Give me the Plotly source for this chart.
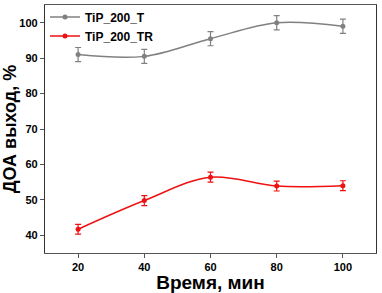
import plotly.graph_objects as go

time_min = [20, 40, 60, 80, 100]
tip_t = [91.0, 90.5, 95.5, 100.0, 99.0]
tip_t_err = [2.0, 2.0, 2.0, 2.0, 2.0]
tip_tr = [41.7, 49.8, 56.4, 53.9, 54.0]
tip_tr_err = [1.4, 1.4, 1.4, 1.4, 1.4]
x_ticks = [20, 40, 60, 80, 100]
y_ticks = [40, 50, 60, 70, 80, 90, 100]

fig = go.Figure()
fig.add_trace(go.Scatter(
    x=time_min, y=tip_t, name="<b>TiP_200_T</b>", mode="lines+markers",
    line=dict(color="#808080", width=1.5, shape="spline", smoothing=1.0),
    marker=dict(color="#808080", size=5, symbol="circle"),
    error_y=dict(type="data", array=tip_t_err, color="#808080", thickness=1.2, width=3),
))
fig.add_trace(go.Scatter(
    x=time_min, y=tip_tr, name="<b>TiP_200_TR</b>", mode="lines+markers",
    line=dict(color="#ee1111", width=1.5, shape="spline", smoothing=1.0),
    marker=dict(color="#ee1111", size=5, symbol="circle"),
    error_y=dict(type="data", array=tip_tr_err, color="#ee1111", thickness=1.2, width=3),
))

fig.update_layout(
    width=382, height=293,
    margin=dict(l=45, r=6, t=3, b=38),
    paper_bgcolor="white", plot_bgcolor="white",
    font=dict(family="Liberation Sans, Arial", color="black"),
    showlegend=True,
    legend=dict(x=0.0, y=1.01, xanchor="left", yanchor="top",
                bgcolor="rgba(0,0,0,0)", font=dict(size=12, color="black"),
                itemwidth=30, tracegroupgap=0),
    xaxis=dict(range=[10, 110], tickvals=x_ticks, ticks="outside", ticklen=4,
               tickwidth=1, tickcolor="#555", showgrid=False, zeroline=False,
               showline=True, linecolor="#555", linewidth=1, mirror=True,
               tickfont=dict(size=11, family="Liberation Sans, Arial", weight="bold"),
               title=dict(text="<b>Время, мин</b>", font=dict(size=19), standoff=3)),
    yaxis=dict(range=[35, 105], tickvals=y_ticks, ticks="outside", ticklen=4,
               tickwidth=1, tickcolor="#555", showgrid=False, zeroline=False,
               showline=True, linecolor="#333", linewidth=1.3, mirror=True,
               tickfont=dict(size=11, family="Liberation Sans, Arial", weight="bold"),
               title=dict(text="<b>ДОА выход, %</b>", font=dict(size=18), standoff=3)),
)

fig.write_html("out.html", config={"displayModeBar": False},
               post_script="document.body.style.margin='0';document.body.style.padding='0';document.body.style.overflow='hidden';")
